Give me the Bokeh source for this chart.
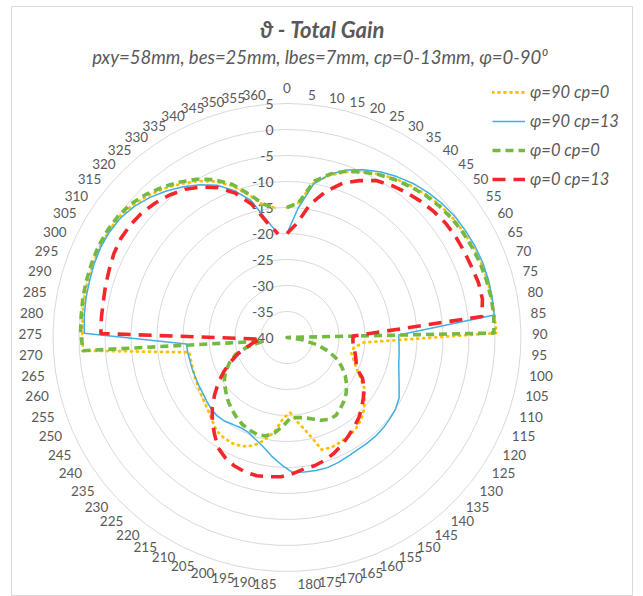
import numpy as np
from bokeh.plotting import figure
from bokeh.models import Range1d, Label, Legend, LegendItem, ColumnDataSource
from bokeh.embed import file_html
from bokeh.resources import INLINE
from bokeh.core.properties import value

# ---- data: theta cut, total gain in dB, one value per 5 degrees (0..360) ----
categories = [str(a) for a in range(0, 361, 5)]

phi90_cp0 = [
    -15, -14, -9.8, -7.7, -6.2, -5, -3.9, -3, -2.3, -1.6, -1.1, -0.7, -0.4, -0.2, 0, 0.1, 0.1, 0.1,
    0.3, -25.2, -27, -27.3, -26.5, -25.5, -24, -22.2, -21, -19.7, -18.7, -18, -17.7, -17.4, -17.2, -17.4,
    -21.2, -23.5, -25.5, -24.5, -21.8, -19.8, -18.2, -17.4, -17.1, -17.2, -17.5, -18.5, -19.3, -19.8, -20.2,
    -20.5, -20.7, -20.9, -21, -21, -0.7, -0.6, -0.5, -0.3, -0.2, -0.1, 0, -0.1, -0.3, -0.9, -1.8, -2.9,
    -4.1, -5.4, -7, -9, -11.7, -14.2, -15,
]
phi90_cp13 = [
    -20, -15, -10, -7.5, -5.8, -4.5, -3.4, -2.5, -1.7, -1.1, -0.6, -0.2, 0, 0.2, 0.3, 0.3, 0.2, 0.1,
    -18.5, -18.4, -18.2, -17.9, -17.3, -16.5, -15.5, -15, -14.8, -14.6, -14.5, -14.5, -14.5, -14.3, -14,
    -13.8, -13.8, -13.9, -14, -15.5, -17, -18.5, -19.5, -20.3, -20.5, -20.3, -19.9, -19.8, -20, -20.3,
    -20.6, -20.7, -20.8, -20.8, -20.8, -20.7, -20.6, -1, -0.8, -0.6, -0.5, -0.3, -0.2, -0.3, -0.6, -1.3,
    -2.3, -3.5, -4.8, -6.2, -7.8, -10, -12.7, -17, -20,
]
phi0_cp0 = [
    -15, -14, -9.5, -7.5, -6, -5, -4, -3.2, -2.5, -1.8, -1.3, -0.9, -0.6, -0.4, -0.2, -0.1, 0, 0,
    -0.2, -40, -37, -34, -31.5, -29.5, -28, -26.6, -25.4, -24.4, -23.6, -22.9, -22.3, -22.3, -22.8, -23.6,
    -24.2, -24.5, -24.5, -23, -21.5, -20.6, -20.5, -20.8, -21.2, -21.8, -22.5, -23.2, -24, -24.8, -25.6,
    -26.7, -28, -29.5, -32, -35.4, -0.7, -0.3, -0.2, 0, 0.1, 0.2, 0.3, 0.2, 0, -0.5, -1.4, -2.5, -3.7,
    -5, -6.6, -8.7, -11.5, -14, -15,
]
phi0_cp13 = [
    -20, -18, -14, -11, -8.5, -6.8, -5.3, -4.5, -3.9, -3.3, -2.8, -2.4, -2.2, -2.1, -2, -1.7, -1.7, -2.3,
    -27.3, -27.3, -27, -26.5, -26, -25.5, -23.5, -22.3, -21.3, -20.3, -19.3, -18.5, -17.7, -16.8, -16,
    -15.3, -14.8, -14.5, -13.8, -13.2, -13, -12.8, -12.9, -13.3, -14, -15, -16.8, -18.5, -20.3, -22.3,
    -24.2, -26.2, -28.2, -30, -32, -33.5, -35, -4.2, -4.1, -4, -3.7, -3.4, -3, -2.8, -2.9, -3.2, -3.8,
    -4.5, -5.4, -6.7, -8.3, -10.5, -13.5, -17.5, -20,
]

series_names = ["\u03c6=90 cp=0", "\u03c6=90 cp=13", "\u03c6=0 cp=0", "\u03c6=0 cp=13"]
ring_levels = [5, 0, -5, -10, -15, -20, -25, -30, -35, -40]
R_MIN = -40

# ---- page geometry (pixels) ----
W, H = 643, 596
CX, CY = 286.5, 337.0          # pole of the radar
PPU = 234 / 45                 # pixels per dB along the radius
LEFT, RIGHT, TOP, BOTTOM = 11, 632, 6, 596

GREY_TEXT = "#595959"
FONT = "Lato"


def px(x):
    return (x - CX) / PPU


def py(y):
    return (CY - y) / PPU


n = len(categories)
theta = np.arange(n) * 2 * np.pi / n


def polar(vals):
    r = np.clip(np.asarray(vals, dtype=float) - R_MIN, 0, None)
    return r * np.sin(theta), r * np.cos(theta)


p = figure(
    width=W, height=H, output_backend="svg", toolbar_location=None,
    x_range=Range1d(px(LEFT), px(RIGHT)), y_range=Range1d(py(BOTTOM), py(TOP)),
    x_axis_location=None, y_axis_location=None,
    min_border_left=LEFT, min_border_right=W - RIGHT,
    min_border_top=TOP, min_border_bottom=H - BOTTOM,
)
p.grid.visible = False
p.outline_line_color = "#D9D9D9"
p.background_fill_color = "white"
p.border_fill_color = "white"

# concentric grid polygons
closed = np.append(theta, 0.0)
ring_xs, ring_ys = [], []
for lv in ring_levels[:-1]:
    r = lv - R_MIN
    ring_xs.append(list(r * np.sin(closed)))
    ring_ys.append(list(r * np.cos(closed)))
p.multi_line(ring_xs, ring_ys, line_color="#D9D9D9", line_width=1)

# radial axis labels
p.text(x=[-13.5 / PPU] * len(ring_levels), y=[lv - R_MIN for lv in ring_levels],
       text=[str(lv) for lv in ring_levels], text_align="right", text_baseline="middle",
       text_font=value(FONT), text_font_size="14px", text_color=GREY_TEXT)

# category labels: anchored just outside the outer ring, aligned away from the pole
R_lab = (ring_levels[0] - R_MIN) + 11 / PPU
s, c = np.sin(theta), np.cos(theta)
align = ["left" if v > 1e-9 else ("right" if v < -1e-9 else "center") for v in s]
base = ["bottom" if abs(v) < 1e-9 else "middle" for v in s]
lab_src = ColumnDataSource(dict(x=R_lab * s, y=R_lab * c - 1.5 / PPU * (np.abs(s) > 1e-9),
                                text=categories, align=align, base=base))
p.text(x="x", y="y", text="text", text_align="align", text_baseline="base", source=lab_src,
       text_font=value(FONT), text_font_size="13.5px", text_color=GREY_TEXT)

# series
styles = [
    dict(line_color="#FFC000", line_width=2.8, line_dash="1 5", line_cap="round"),
    dict(line_color="#41AEE6", line_width=1.5),
    dict(line_color="#74B940", line_width=3.6, line_dash="8 5"),
    dict(line_color="#F5262A", line_width=3.6, line_dash="13 8"),
]
items = []
for name, vals, st in zip(series_names, [phi90_cp0, phi90_cp13, phi0_cp0, phi0_cp13], styles):
    x, y = polar(vals)
    rnd = p.line(x, y, line_join="round", **st)
    items.append(LegendItem(label=name, renderers=[rnd]))

legend = Legend(
    items=items, location=(481, 407),
    glyph_width=33, glyph_height=20, label_height=20, spacing=9, padding=0, margin=0,
    label_standoff=5, label_text_font=FONT, label_text_font_size="16.5px",
    label_text_font_style="italic", label_text_color=GREY_TEXT,
    border_line_color=None, background_fill_alpha=0,
)
p.add_layout(legend)

# titles
p.add_layout(Label(x=px(321.5), y=py(29), text="\u03d1 - Total Gain", text_align="center",
                   text_baseline="middle", text_font=FONT, text_font_size="22px",
                   text_font_style="bold italic", text_color=GREY_TEXT))
p.add_layout(Label(x=px(321.5), y=py(56),
                   text="pxy=58mm, bes=25mm, lbes=7mm, cp=0-13mm,  \u03c6=0-90\u2070",
                   text_align="center", text_baseline="middle", text_font=FONT,
                   text_font_size="18.5px", text_font_style="italic", text_color=GREY_TEXT))

open("out.html", "w").write(file_html(p, INLINE))
